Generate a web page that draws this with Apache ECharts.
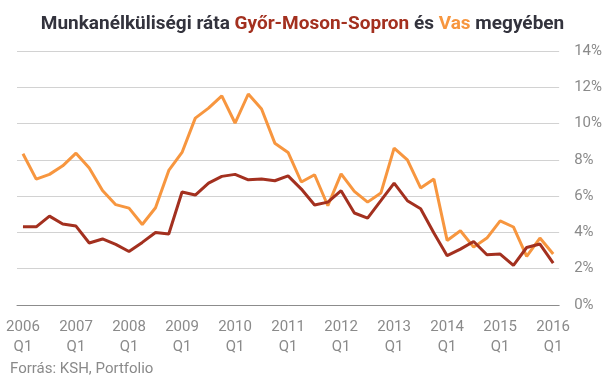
<!DOCTYPE html>
<html>
<head>
<meta charset="utf-8">
<script src="https://cdn.jsdelivr.net/npm/echarts@6/dist/echarts.min.js"></script>
<style>html,body{margin:0;padding:0;background:#fff}#c{width:605px;height:378px}</style>
</head>
<body>
<div id="c"></div>
<script>
var yearLabels = ['2006', '2007', '2008', '2009', '2010', '2011', '2012', '2013', '2014', '2015', '2016'];
var gyorMosonSopron = [4.31, 4.31, 4.90, 4.46, 4.35, 3.42, 3.64, 3.34, 2.95, 3.45, 4.00,
  3.91, 6.23, 6.06, 6.72, 7.09, 7.20, 6.90, 6.94, 6.85, 7.12,
  6.39, 5.51, 5.67, 6.30, 5.07, 4.79, 5.75, 6.72, 5.75, 5.31,
  3.97, 2.72, 3.08, 3.50, 2.77, 2.81, 2.18, 3.17, 3.36, 2.31];
var vas = [8.34, 6.94, 7.20, 7.67, 8.37, 7.55, 6.31, 5.53, 5.34, 4.44, 5.36,
  7.42, 8.41, 10.30, 10.85, 11.53, 10.03, 11.63, 10.80, 8.92, 8.41,
  6.78, 7.18, 5.47, 7.23, 6.26, 5.67, 6.17, 8.65, 8.00, 6.45,
  6.94, 3.56, 4.09, 3.19, 3.69, 4.64, 4.30, 2.68, 3.69, 2.81];

var labelIdx = yearLabels.map(function (y, i) { return i * 4; });
function pairs(arr) { return arr.map(function (v, i) { return [i, v]; }); }

var chart = echarts.init(document.getElementById('c'), null, {renderer: 'canvas'});
chart.setOption({
  animation: false,
  title: {
    left: 'center', top: 10,
    text: '{a|Munkanélküliségi ráta }{b|Győr-Moson-Sopron}{a| és }{c|Vas}{a| megyében}',
    textStyle: {
      rich: {
        a: {fontFamily: 'Roboto', fontWeight: 'bold', fontSize: 19, color: '#33333d'},
        b: {fontFamily: 'Roboto', fontWeight: 'bold', fontSize: 19, color: '#a3301f'},
        c: {fontFamily: 'Roboto', fontWeight: 'bold', fontSize: 19, color: '#f7963f'}
      }
    }
  },
  grid: {left: 17, right: 44, top: 51, bottom: 73, containLabel: false},
  xAxis: {
    type: 'value', min: -0.45, max: 40.45,
    splitLine: {show: false},
    axisTick: {show: false},
    axisLine: {show: true, lineStyle: {color: '#8c8c8c', width: 1}},
    axisLabel: {
      customValues: labelIdx,
      margin: 12,
      fontFamily: 'Roboto', fontSize: 15, lineHeight: 20, color: '#8a8a8a',
      formatter: function (v) { return yearLabels[Math.round(v / 4)] + '\nQ1'; }
    }
  },
  yAxis: {
    type: 'value', position: 'right', min: 0, max: 14, interval: 2,
    axisLine: {show: false}, axisTick: {show: false},
    splitLine: {lineStyle: {color: '#d2d2d2', width: 1}},
    axisLabel: {
      margin: 15, align: 'left', fontFamily: 'Roboto', fontSize: 15, color: '#8a8a8a',
      formatter: function (v) { return v + '%'; }
    }
  },
  series: [
    {name: 'Vas', type: 'line', data: pairs(vas), symbol: 'none',
     lineStyle: {color: '#f7963f', width: 3}, z: 2},
    {name: 'Győr-Moson-Sopron', type: 'line', data: pairs(gyorMosonSopron), symbol: 'none',
     lineStyle: {color: '#a3301f', width: 3}, z: 3}
  ],
  graphic: [{
    type: 'text', left: 10, top: 362,
    style: {text: 'Forrás: KSH, Portfolio', font: '15px Roboto', fill: '#8a8a8a'}
  }]
});
</script>
</body>
</html>
